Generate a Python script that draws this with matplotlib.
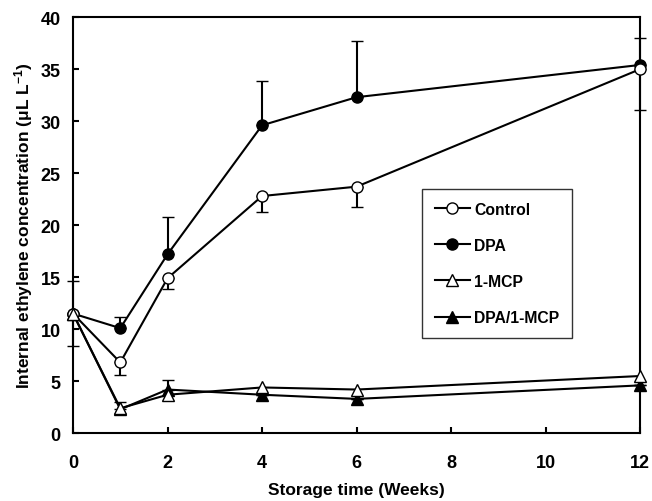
import matplotlib
matplotlib.use('Agg')
import matplotlib.pyplot as plt
from matplotlib.lines import Line2D

plt.rcParams['font.family'] = ['Liberation Sans', 'DejaVu Sans']
plt.rcParams['font.weight'] = 'bold'
plt.rcParams['mathtext.fontset'] = 'custom'
plt.rcParams['mathtext.rm'] = 'Liberation Sans:bold'
plt.rcParams['mathtext.bf'] = 'Liberation Sans:bold'
plt.rcParams['mathtext.default'] = 'bf'

weeks = [0, 1, 2, 4, 6, 12]

control = [11.5, 6.8, 14.9, 22.8, 23.7, 35.0]
control_err = [3.1, 1.2, 1.0, 1.5, 2.0, 3.9]      # drawn downward

dpa = [11.5, 10.1, 17.2, 29.6, 32.3, 35.4]
dpa_err = [3.1, 1.1, 3.6, 4.3, 5.4, 2.6]          # drawn upward

mcp = [11.5, 2.4, 3.7, 4.4, 4.2, 5.5]

dpa_mcp = [11.5, 2.3, 4.2, 3.7, 3.3, 4.6]
dpa_mcp_err = [0, 0.7, 0.9, 0, 0, 0]              # drawn upward

labels = ['Control', 'DPA', '1-MCP', 'DPA/1-MCP']
zeros = [0] * len(weeks)

fig = plt.figure(figsize=(6.52, 5.02), dpi=100)
ax = fig.add_axes([0.112, 0.135, 0.87, 0.829])

common = dict(color='black', lw=1.5, ms=8, mec='black', mew=1.0,
              capsize=4, elinewidth=1.5, capthick=1.5, clip_on=False)

ax.errorbar(weeks, control, yerr=[control_err, zeros], marker='o', mfc='white', zorder=4, **common)
ax.errorbar(weeks, dpa, yerr=[zeros, dpa_err], marker='o', mfc='black', zorder=3, **common)
ax.errorbar(weeks, mcp, yerr=None, marker='^', mfc='white', zorder=4, **common)
ax.errorbar(weeks, dpa_mcp, yerr=[zeros, dpa_mcp_err], marker='^', mfc='black', zorder=3, **common)

ax.set_xlim(0, 12)
ax.set_ylim(0, 40)
ax.set_xticks([0, 2, 4, 6, 8, 10, 12])
ax.set_yticks([0, 5, 10, 15, 20, 25, 30, 35, 40])
ax.tick_params(direction='in', length=4, width=1.5, labelsize=13)
ax.tick_params(axis='x', pad=15)
ax.tick_params(axis='y', pad=9)
for lab in ax.get_xticklabels() + ax.get_yticklabels():
    lab.set_fontweight('bold')
for s in ax.spines.values():
    s.set_linewidth(1.5)

ax.set_xlabel('Storage time (Weeks)', fontsize=12.5, fontweight='bold', labelpad=8)
ax.set_ylabel(r'Internal ethylene concentration (μL L$^{-1}$)',
              fontsize=12.5, fontweight='bold', labelpad=4)

handles = [
    Line2D([], [], color='black', lw=1.5, marker='o', ms=8, mfc='white', mec='black'),
    Line2D([], [], color='black', lw=1.5, marker='o', ms=8, mfc='black', mec='black'),
    Line2D([], [], color='black', lw=1.5, marker='^', ms=8, mfc='white', mec='black'),
    Line2D([], [], color='black', lw=1.5, marker='^', ms=8, mfc='black', mec='black'),
]
leg = ax.legend(handles, labels, loc='upper left', bbox_to_anchor=(0.616, 0.587),
                borderaxespad=0, frameon=True, fancybox=False, edgecolor='black',
                handlelength=2.2, handletextpad=0.3, labelspacing=1.35, borderpad=0.8,
                prop={'weight': 'bold', 'size': 11.3})
leg.get_frame().set_linewidth(1.0)

fig.savefig('out.png', dpi=100)
